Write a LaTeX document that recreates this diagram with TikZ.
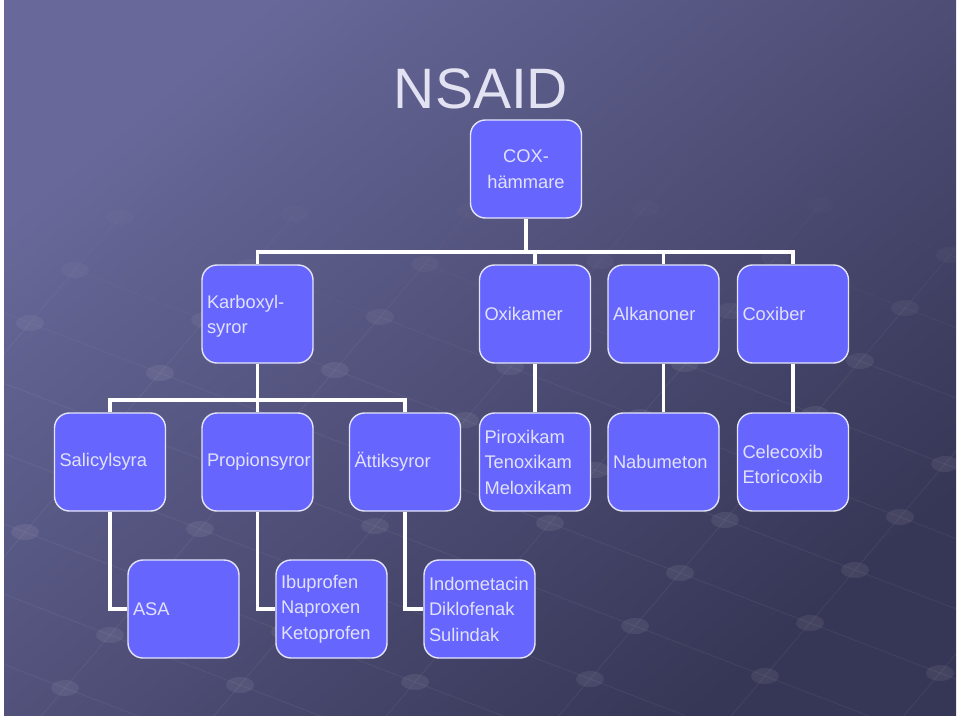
\documentclass[tikz,border=0pt]{standalone}
\usepackage{fontspec}
\setmainfont{Liberation Sans}
\hyphenpenalty=10000
\exhyphenpenalty=10000
\definecolor{bgtop}{RGB}{104,104,154}
\definecolor{bgmid}{RGB}{84,84,128}
\definecolor{bgbot}{RGB}{54,54,86}
\definecolor{boxfill}{RGB}{102,102,255}
\definecolor{boxline}{RGB}{228,228,252}
\definecolor{txt}{RGB}{225,225,250}
\definecolor{titlecol}{RGB}{226,226,242}
\begin{document}
\begin{tikzpicture}[x=1pt,y=-1pt,
  nbox/.style={rectangle, rounded corners=15pt, draw=boxline, line width=1.4pt,
    fill=boxfill, text=txt, font=\fontsize{18.3}{25.5}\selectfont,
    align=left, text width=101pt, inner xsep=5pt, inner ysep=0pt,
    minimum height=98pt},
  conn/.style={draw=white, line width=3.6pt},
  titlestyle/.style={text=titlecol, font=\fontsize{57}{60}\selectfont, inner sep=0pt}]
\useasboundingbox (0,0) rectangle (960,717);
\fill[white] (0,0) rectangle (960,717);
\shade[top color=bgtop, middle color=bgmid, bottom color=bgbot, shading angle=40]
  (4,1) rectangle (956,715);
% decorative network pattern
\begin{scope}
\clip (4,1) rectangle (956,715);
\foreach \i in {-8,...,9}{
 \foreach \j in {-9,...,3}{
  \pgfmathsetmacro{\px}{810+45*\i+130*\j}
  \pgfmathsetmacro{\py}{623-53*\i+50*\j}
  \pgfmathsetmacro{\op}{max(0,min(1,(\py-160)/220))}
  \pgfmathsetmacro{\lo}{0.05*\op}
  \pgfmathsetmacro{\dop}{0.07*\op}
  \draw[white, line width=1pt, opacity=\lo] (\px,\py) -- ++(45,-53);
  \draw[white, line width=1pt, opacity=\lo] (\px,\py) -- ++(130,50);
  \fill[white, opacity=\dop] (\px,\py) ellipse [x radius=14, y radius=8];
 }
}
\end{scope}
% title
\node[titlestyle] (title) at (481,89) {NSAID};
% nodes
\node[nbox, align=center] (cox) at (526,169) {COX-\\hämmare};
\node[nbox] (karb) at (257.5,314) {\strut Karboxyl-\\syror};
\node[nbox] (oxi) at (535,314) {Oxikamer};
\node[nbox] (alk) at (663.5,314) {Alkanoner};
\node[nbox] (coxib) at (793,314) {Coxiber};
\node[nbox] (sal) at (110,462) {Salicylsyra};
\node[nbox] (prop) at (257.5,462) {Propionsyror};
\node[nbox] (att) at (405,462) {Ättiksyror};
\node[nbox] (pir) at (535,462) {Piroxikam\\Tenoxikam\\Meloxikam};
\node[nbox] (nab) at (663.5,462) {Nabumeton};
\node[nbox] (cel) at (793,462) {\strut Celecoxib\\Etoricoxib};
\node[nbox] (asa) at (183.5,609) {ASA};
\node[nbox] (ibu) at (331.5,609) {Ibuprofen\\Naproxen\\Ketoprofen};
\node[nbox] (ind) at (479.5,609) {Indometacin\\Diklofenak\\Sulindak};
% bus coordinates
\coordinate (b1) at (0,252);
\coordinate (b2) at (0,400);
% connectors
\draw[conn] (cox.south) -- (cox.south |- b1);
\draw[conn] (karb.north) |- (coxib.north |- b1) -- (coxib.north);
\draw[conn] (oxi.north) -- (oxi.north |- b1);
\draw[conn] (alk.north) -- (alk.north |- b1);
\draw[conn] (karb.south) -- (karb.south |- b2);
\draw[conn] (sal.north) |- (att.north |- b2) -- (att.north);
\draw[conn] (prop.north) -- (prop.north |- b2);
\draw[conn] (oxi.south) -- (pir.north);
\draw[conn] (alk.south) -- (nab.north);
\draw[conn] (coxib.south) -- (cel.north);
\draw[conn] (sal.south) |- (asa.west);
\draw[conn] (prop.south) |- (ibu.west);
\draw[conn] (att.south) |- (ind.west);
\end{tikzpicture}
\end{document}
